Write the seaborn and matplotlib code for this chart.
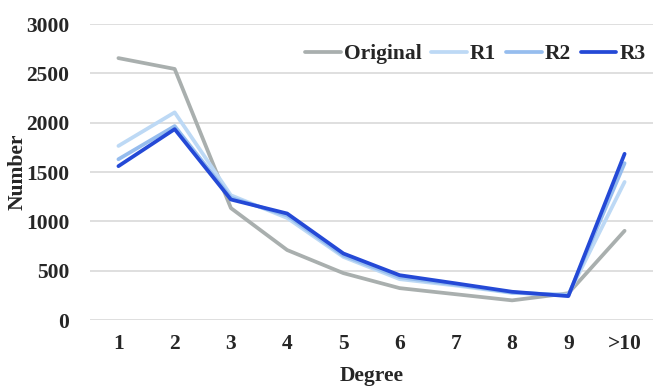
import seaborn as sns
import matplotlib.pyplot as plt
import pandas as pd

degrees = ['1', '2', '3', '4', '5', '6', '7', '8', '9', '>10']
original = [2655, 2545, 1135, 710, 476, 324, 262, 200, 272, 905]
r1 = [1765, 2105, 1265, 1035, 640, 415, 350, 275, 258, 1400]
r2 = [1630, 1966, 1240, 1060, 655, 435, 360, 280, 250, 1590]
r3 = [1560, 1935, 1222, 1080, 675, 455, 372, 287, 243, 1685]
series = ['Original', 'R1', 'R2', 'R3']
colors = ['#A9AFAE', '#BDD9F5', '#96BDEE', '#2449D6']

df = pd.DataFrame({'Degree': degrees * 4,
                   'Number': original + r1 + r2 + r3,
                   'Series': [s for s in series for _ in degrees]})

sns.set_style('white')
plt.rcParams['font.family'] = ['Liberation Serif', 'DejaVu Serif']
plt.rcParams['font.weight'] = 'bold'
fs = 15.5

fig, ax = plt.subplots(figsize=(6.64, 3.88), dpi=100)
fig.subplots_adjust(left=0.136, right=0.983, top=0.938, bottom=0.175)

sns.lineplot(data=df, x='Degree', y='Number', hue='Series',
             palette=dict(zip(series, colors)), linewidth=2.7,
             sort=False, ax=ax)

ax.set_ylim(0, 3000)
ax.set_xlim(-0.5, len(degrees) - 0.5)
ax.set_yticks(range(0, 3001, 500))
ax.yaxis.grid(True, color='#D9D9D9', linewidth=1.2)
ax.set_axisbelow(True)
for s in ax.spines.values():
    s.set_visible(False)
ax.tick_params(axis='both', length=0, labelsize=fs)
ax.tick_params(axis='y', pad=15)
ax.tick_params(axis='x', pad=10)
for lbl in ax.get_xticklabels() + ax.get_yticklabels():
    lbl.set_fontweight('bold')
ax.set_xlabel('Degree', fontsize=fs, fontweight='bold', labelpad=9)
ax.set_ylabel('Number', fontsize=fs, fontweight='bold')
ax.yaxis.set_label_coords(-0.112, 0.5)

ax.legend(loc='upper right', ncol=4, frameon=False,
          handlelength=1.65, handletextpad=0.15, columnspacing=0.45,
          bbox_to_anchor=(1.01, 0.975), borderaxespad=0.2,
          prop={'weight': 'bold', 'size': fs})

fig.savefig('out.png', dpi=100)
